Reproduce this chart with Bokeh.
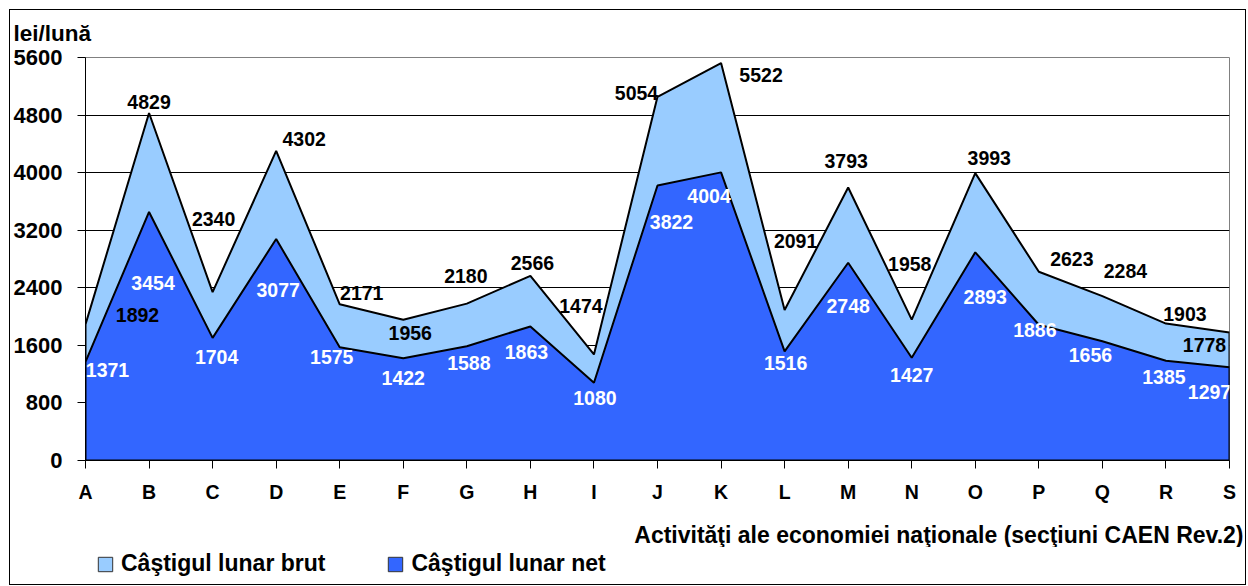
from bokeh.plotting import figure
from bokeh.layouts import column
from bokeh.models import (ColumnDataSource, Range1d, FixedTicker, Title, Legend,
                          LegendItem)
from bokeh.core.properties import value
from bokeh.embed import file_html
from bokeh.resources import INLINE

# ---- data ----
categories = ["A", "B", "C", "D", "E", "F", "G", "H", "I", "J", "K", "L",
              "M", "N", "O", "P", "Q", "R", "S"]
brut = [1892, 4829, 2340, 4302, 2171, 1956, 2180, 2566, 1474, 5054, 5522,
        2091, 3793, 1958, 3993, 2623, 2284, 1903, 1778]
net = [1371, 3454, 1704, 3077, 1575, 1422, 1588, 1863, 1080, 3822, 4004,
       1516, 2748, 1427, 2893, 1886, 1656, 1385, 1297]
series_names = ["Câştigul lunar brut", "Câştigul lunar net"]
y_ticks = [0, 800, 1600, 2400, 3200, 4000, 4800, 5600]

# ---- label placement (screen pixel offsets, x right / y down; styling only) ----
brut_dx = [52, 0, 1, 28, 22, 7, -1, 2, -13, -21, 40, 11, -2, -2, 14, 33, 23, 19, -25]
brut_dy = [-9, -11, -73, -12, -11, 13, -28, -13, -48, -4, 12, -69, -27, -56, -15, -13, -25, -10, 12]
net_dx = [22, 4, 4, 2, -8, 0, 2, -4, 1, 14, -12, 1, 0, 0, 10, -4, -12, -2, -20]
net_dy = [8, 71, 19, 51, 10, 20, 17, 26, 15, 37, 24, 12, 43, 17, 45, 5, 14, 16, 25]

FONT = "Liberation Sans"
BRUT_COLOR = "#99CCFF"
NET_COLOR = "#3366FF"
W = 1235

idx = list(range(len(categories)))
n_last = len(categories) - 1
poly_x = [idx[0]] + idx + [idx[-1]]
brut_y = [0] + brut + [0]
net_y = [0] + net + [0]

p = figure(width=W, height=537, output_backend="svg", toolbar_location=None,
           x_range=Range1d(0, n_last), y_range=Range1d(0, 5600),
           min_border_left=75, min_border_right=16, min_border_top=47,
           min_border_bottom=84)
p.background_fill_color = "white"
p.border_fill_color = "white"
p.outline_line_color = "#808080"
p.outline_line_width = 1

# areas
p.patch(poly_x, brut_y, fill_color=BRUT_COLOR, line_color="black", line_width=2)
p.patch(poly_x, net_y, fill_color=NET_COLOR, line_color="black", line_width=2)

# data labels
src_b = ColumnDataSource(dict(x=idx, y=brut, t=[str(v) for v in brut], dx=brut_dx, dy=brut_dy))
src_n = ColumnDataSource(dict(x=idx, y=net, t=[str(v) for v in net], dx=net_dx, dy=net_dy))
p.text(x="x", y="y", text="t", x_offset="dx", y_offset="dy", source=src_b,
       text_font=value(FONT), text_font_style="bold", text_font_size="19.5px",
       text_color="black", text_align="center", text_baseline="middle")
p.text(x="x", y="y", text="t", x_offset="dx", y_offset="dy", source=src_n,
       text_font=value(FONT), text_font_style="bold", text_font_size="19.5px",
       text_color="white", text_align="center", text_baseline="middle")

# axes
p.xgrid.visible = False
p.ygrid.ticker = FixedTicker(ticks=y_ticks[1:-1])
p.ygrid.grid_line_color = "black"
p.ygrid.grid_line_width = 1

p.yaxis.ticker = FixedTicker(ticks=y_ticks)
p.yaxis.major_label_text_font = FONT
p.yaxis.major_label_text_font_style = "bold"
p.yaxis.major_label_text_font_size = "22px"
p.yaxis.major_label_text_color = "black"
p.yaxis.major_tick_in = 0
p.yaxis.major_tick_out = 8
p.yaxis.minor_tick_line_color = None
p.yaxis.axis_line_color = "black"
p.yaxis.major_tick_line_color = "black"
p.yaxis.major_label_standoff = 15

p.xaxis.ticker = FixedTicker(ticks=idx)
p.xaxis.major_label_overrides = {i: c for i, c in zip(idx, categories)}
p.xaxis.major_label_text_font = FONT
p.xaxis.major_label_text_font_style = "bold"
p.xaxis.major_label_text_font_size = "19.5px"
p.xaxis.major_label_text_color = "black"
p.xaxis.major_tick_in = 0
p.xaxis.major_tick_out = 8
p.xaxis.minor_tick_line_color = None
p.xaxis.axis_line_color = "black"
p.xaxis.major_tick_line_color = "black"
p.xaxis.major_label_standoff = 12
p.xaxis.axis_label = " "
p.xaxis.axis_label_standoff = 0
p.xaxis.axis_label_text_font_size = "10px"

# titles
p.add_layout(Title(text="lei/lună", align="left", offset=-72, standoff=19,
                   vertical_align="top",
                   text_font=FONT, text_font_style="bold", text_font_size="22.5px",
                   text_color="black"), "above")
p.add_layout(Title(text="Activităţi ale economiei naţionale (secţiuni CAEN Rev.2)",
                   align="right", offset=-14, standoff=0,
                   text_font=FONT, text_font_style="bold", text_font_size="23px",
                   text_color="black"), "below")

# legend strip (its swatch renderers sit outside the strip's visible range)
q = figure(width=W, height=37, output_backend="svg", toolbar_location=None,
           x_range=Range1d(0, n_last), y_range=Range1d(-2, -1),
           x_axis_type=None, y_axis_type=None, min_border=0)
q.outline_line_color = None
q.xgrid.visible = False
q.ygrid.visible = False
q.background_fill_color = "white"
q.border_fill_color = "white"
lb = q.patch(poly_x, brut_y, fill_color=BRUT_COLOR, line_color="#333333", line_width=1)
ln = q.patch(poly_x, net_y, fill_color=NET_COLOR, line_color="#333333", line_width=1)
legend = Legend(items=[LegendItem(label=series_names[0], renderers=[lb]),
                       LegendItem(label=series_names[1], renderers=[ln])],
                orientation="horizontal", location=(11, 7),
                padding=0, margin=0, spacing=61, label_standoff=7,
                glyph_width=18, glyph_height=18, label_height=22,
                label_text_font=FONT, label_text_font_style="bold",
                label_text_font_size="23px", label_text_color="black",
                border_line_color=None, background_fill_alpha=0)
q.add_layout(legend, "center")

layout = column(p, q, spacing=0,
                styles={"border": "1px solid #000", "margin-left": "9px", "margin-top": "9px"})
open("out.html", "w").write(file_html(layout, INLINE))
